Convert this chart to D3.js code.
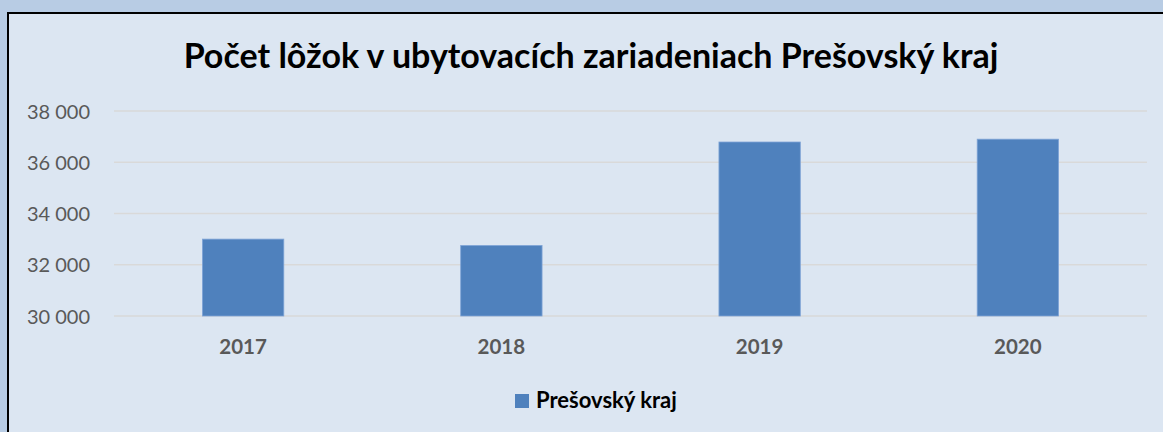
<!DOCTYPE html>
<html><head><meta charset="utf-8">
<script src="https://cdn.jsdelivr.net/npm/d3@7"></script>
<style>body{margin:0;background:#b8cce4;}svg{display:block;}</style>
</head><body>
<svg id="c" width="1163" height="432"></svg>
<script>
const categories = ["2017", "2018", "2019", "2020"];
const values = [33000, 32750, 36790, 36900];
const yTicks = [30000, 32000, 34000, 36000, 38000];
const seriesName = "Prešovský kraj";
const title = "Počet lôžok v ubytovacích zariadeniach Prešovský kraj";

const svg = d3.select("#c");
const font = "Lato, 'Open Sans', sans-serif";
svg.append("rect").attr("x", 0).attr("y", 0).attr("width", 1163).attr("height", 432).attr("fill", "#b8cce4");
svg.append("rect").attr("x", 8).attr("y", 13).attr("width", 1170).attr("height", 440)
  .attr("fill", "#dce6f2").attr("stroke", "#000").attr("stroke-width", 2);

const x = d3.scaleBand().domain(categories).range([114, 1147]).paddingInner(0.685).paddingOuter(0.3425);
const y = d3.scaleLinear().domain([30000, 38000]).range([316, 111]);

const fmt = v => d3.format(",")(v).replace(/,/g, " ");

svg.append("g").selectAll("line").data(yTicks).join("line")
  .attr("x1", 114).attr("x2", 1147).attr("y1", d => y(d)).attr("y2", d => y(d))
  .attr("stroke", "#d9d9d9").attr("stroke-width", 1.5);

const yAxis = d3.axisLeft(y).tickValues(yTicks).tickFormat(fmt).tickSize(0).tickPadding(0);
const ga = svg.append("g").attr("transform", "translate(90,0)").call(yAxis);
ga.select(".domain").remove();
ga.selectAll("text").attr("fill", "#595959").attr("font-family", font).attr("font-size", 20).attr("dy", "0.35em");

svg.append("g").selectAll("rect").data(values).join("rect")
  .attr("x", (d, i) => x(categories[i])).attr("width", x.bandwidth())
  .attr("y", d => y(d)).attr("height", d => y(30000) - y(d))
  .attr("fill", "#4f81bd").attr("stroke", "#7ea3d6").attr("stroke-width", 0.8);

const xAxis = d3.axisBottom(x).tickSize(0).tickPadding(0);
const gx = svg.append("g").attr("transform", "translate(0,354)").call(xAxis);
gx.select(".domain").remove();
gx.selectAll("text").attr("fill", "#595959").attr("font-family", font).attr("font-weight", "bold").attr("font-size", 20.5).attr("dy", "0");

svg.append("text").attr("x", 591).attr("y", 68).attr("text-anchor", "middle")
  .attr("font-family", font).attr("font-weight", "bold").attr("font-size", 34).attr("fill", "#000").text(title);

const lg = svg.append("g");
lg.append("rect").attr("x", 515).attr("y", 394).attr("width", 14).attr("height", 14).attr("fill", "#4f81bd");
lg.append("text").attr("x", 536).attr("y", 408).attr("font-family", font).attr("font-weight", "bold")
  .attr("font-size", 22).attr("fill", "#000").text(seriesName);
</script>
</body></html>
